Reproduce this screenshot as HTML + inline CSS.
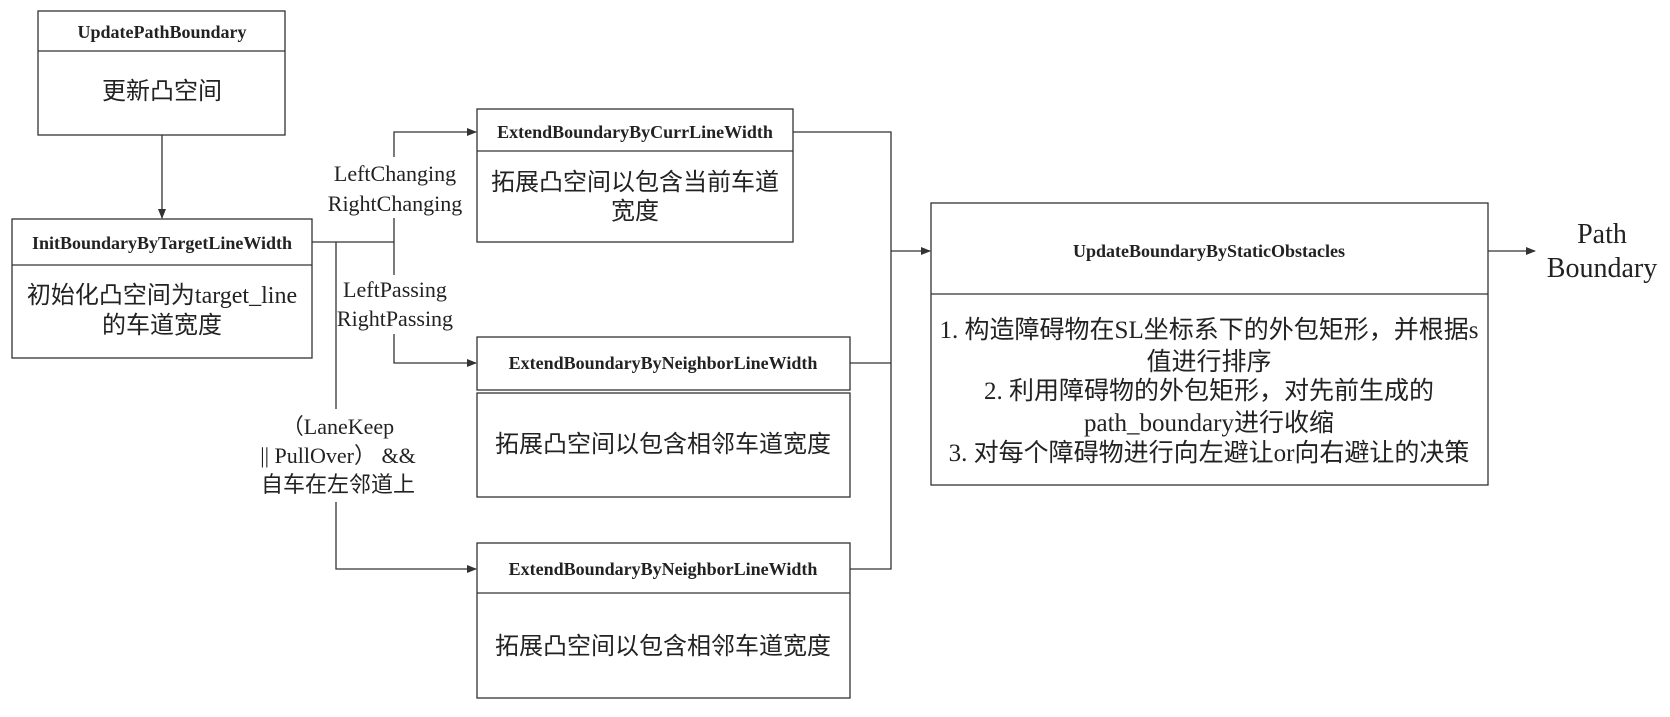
<!DOCTYPE html>
<html><head><meta charset="utf-8"><style>
html,body{margin:0;padding:0;background:#fff}
svg text{font-family:"Liberation Serif","Noto Sans CJK SC",serif;fill:#222}
.h{font-weight:bold;font-size:18px}
.b{font-size:24px}
.s{font-size:25px}
.l{font-size:22px}
</style></head><body>
<svg width="1670" height="712" viewBox="0 0 1670 712" xmlns="http://www.w3.org/2000/svg">
<defs><marker id="a" markerWidth="10" markerHeight="8" refX="9" refY="4" orient="auto" markerUnits="userSpaceOnUse"><path d="M0,0 L10,4 L0,8 z" fill="#333"/></marker></defs>
<g fill="none" stroke="#333" stroke-width="1.3">
<rect x="38" y="11" width="247" height="124"/><line x1="38" y1="51" x2="285" y2="51"/>
<rect x="12" y="219" width="300" height="139"/><line x1="12" y1="265" x2="312" y2="265"/>
<rect x="477" y="109" width="316" height="133"/><line x1="477" y1="151" x2="793" y2="151"/>
<rect x="477" y="337" width="373" height="53"/>
<rect x="477" y="393" width="373" height="104"/>
<rect x="477" y="543" width="373" height="155"/><line x1="477" y1="593" x2="850" y2="593"/>
<rect x="931" y="203" width="557" height="282"/><line x1="931" y1="294" x2="1488" y2="294"/>
<line x1="162" y1="135" x2="162" y2="218" marker-end="url(#a)"/>
<line x1="312" y1="242" x2="394" y2="242"/>
<polyline points="394,157 394,132 476,132" marker-end="url(#a)"/>
<line x1="394" y1="218" x2="394" y2="275"/>
<polyline points="394,334 394,363 476,363" marker-end="url(#a)"/>
<line x1="336" y1="242" x2="336" y2="409"/>
<polyline points="336,502 336,569 476,569" marker-end="url(#a)"/>
<polyline points="793,132 891,132 891,569 850,569"/>
<line x1="850" y1="363" x2="891" y2="363"/>
<line x1="891" y1="251" x2="930" y2="251" marker-end="url(#a)"/>
<line x1="1488" y1="251" x2="1535" y2="251" marker-end="url(#a)"/>
</g>
<g text-anchor="middle">
<text class="h" x="162" y="38">UpdatePathBoundary</text>
<text class="b" x="162" y="99">更新凸空间</text>
<text class="h" x="162" y="249">InitBoundaryByTargetLineWidth</text>
<text class="b" x="162" y="303">初始化凸空间为target_line</text>
<text class="b" x="162" y="333">的车道宽度</text>
<text class="h" x="635" y="138">ExtendBoundaryByCurrLineWidth</text>
<text class="b" x="635" y="190">拓展凸空间以包含当前车道</text>
<text class="b" x="635" y="219">宽度</text>
<text class="h" x="663" y="369">ExtendBoundaryByNeighborLineWidth</text>
<text class="b" x="663" y="452">拓展凸空间以包含相邻车道宽度</text>
<text class="h" x="663" y="575">ExtendBoundaryByNeighborLineWidth</text>
<text class="b" x="663" y="654">拓展凸空间以包含相邻车道宽度</text>
<text class="h" x="1209" y="257">UpdateBoundaryByStaticObstacles</text>
<text class="s" x="1209" y="338">1. 构造障碍物在SL坐标系下的外包矩形，并根据s</text>
<text class="s" x="1209" y="370">值进行排序</text>
<text class="s" x="1209" y="399">2. 利用障碍物的外包矩形，对先前生成的</text>
<text class="s" x="1209" y="431">path_boundary进行收缩</text>
<text class="s" x="1209" y="461">3. 对每个障碍物进行向左避让or向右避让的决策</text>
<text class="l" x="395" y="181">LeftChanging</text>
<text class="l" x="395" y="211">RightChanging</text>
<text class="l" x="395" y="297">LeftPassing</text>
<text class="l" x="395" y="326">RightPassing</text>
<text class="l" x="338" y="434">（LaneKeep</text>
<text class="l" x="338" y="463">|| PullOver） &amp;&amp;</text>
<text class="l" x="338" y="492">自车在左邻道上</text>
<text style="font-size:28px" x="1602" y="243">Path</text>
<text style="font-size:28px" x="1602" y="277">Boundary</text>
</g>
</svg>
</body></html>
